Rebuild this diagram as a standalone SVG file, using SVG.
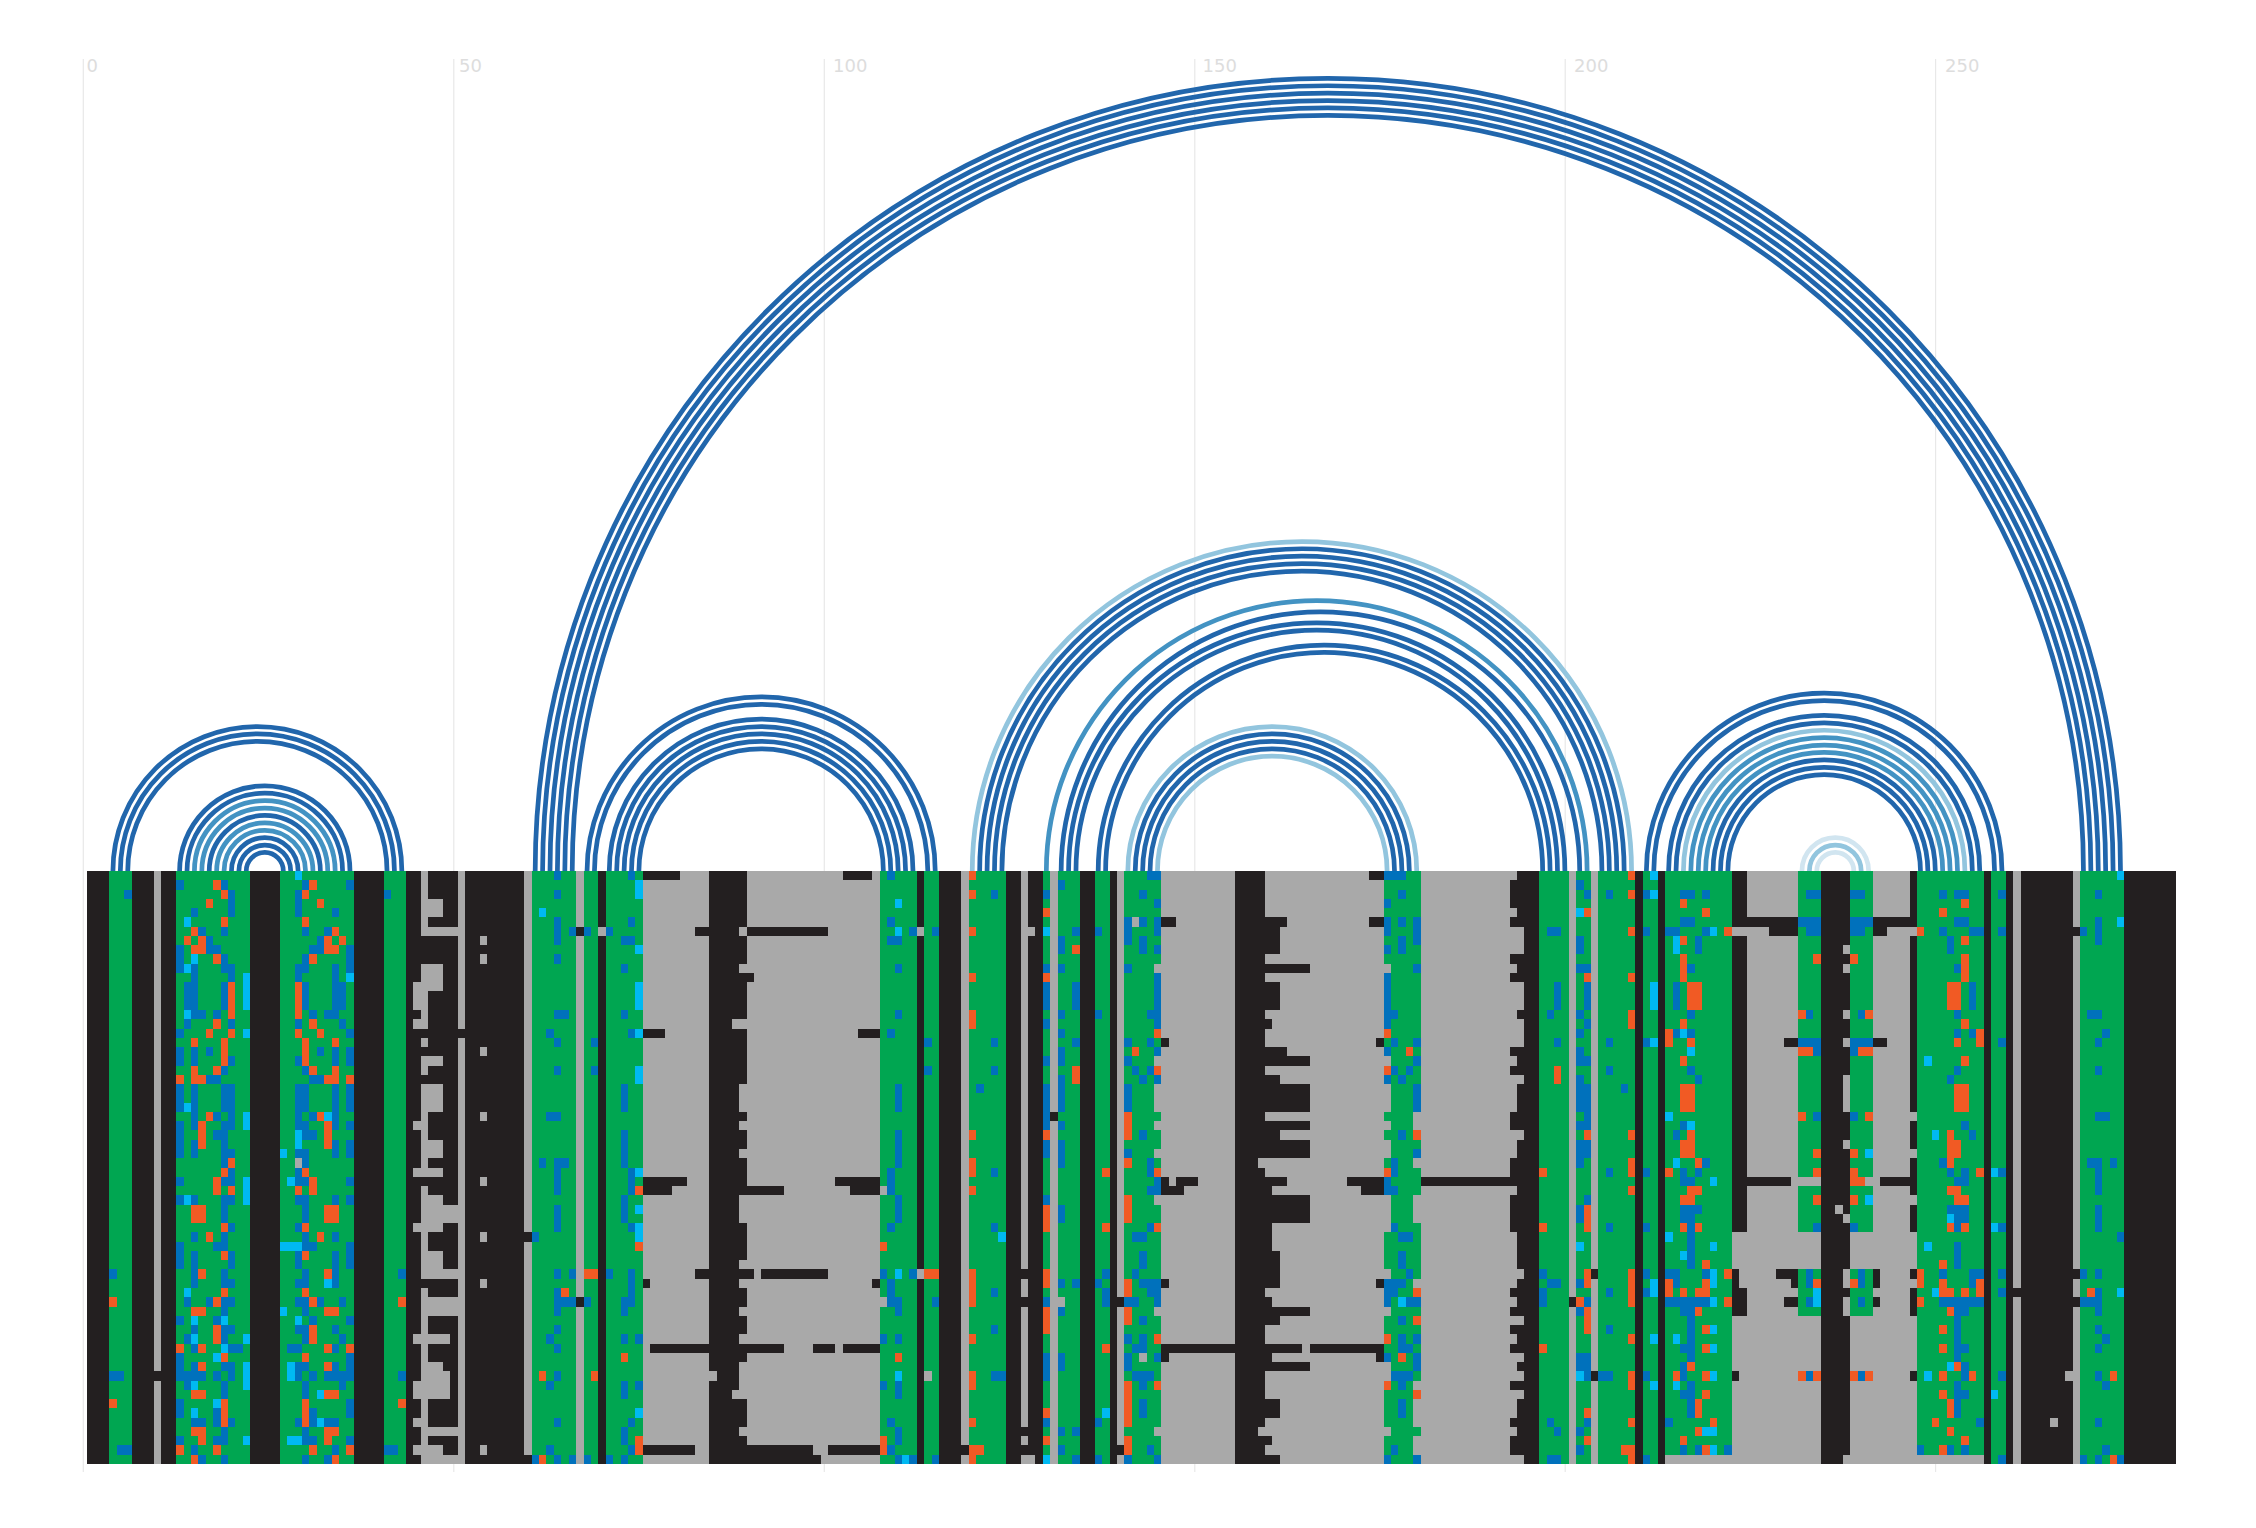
<svg xmlns="http://www.w3.org/2000/svg" width="2256" height="1528" viewBox="0 0 2256 1528">
<style>
text{font-family:"DejaVu Sans",sans-serif;font-size:18px;fill:#ddd}
#grid path{stroke:#e8e8e8;stroke-width:1.2;fill:none}
#matrix{shape-rendering:crispEdges}
#matrix path{fill:none;stroke-width:1}
#matrix path.f{stroke:none}
.a{fill:#a9a9a9}
.n{fill:#00a651!important}.K{fill:#231f20!important}.A{fill:#a9a9a9!important}
.k{stroke:#231f20}.g{stroke:#a9a9a9}.b{stroke:#0071bc}.o{stroke:#f15a24}.c{stroke:#00b9f2}
#connectors path{fill:none;stroke-width:.64}
.d{stroke:#2166ac}.m{stroke:#4393c3}.l{stroke:#92c5de}.p{stroke:#d1e5f0}
</style>
<rect width="2256" height="1528" fill="#fff"/>
<g id="grid">
<path d="M83.3 59V1472M453.8 59V1472M824.3 59V1472M1194.8 59V1472M1565.2 59V1472M1935.6 59V1472"/>
<text x="86.5" y="72">0</text><text x="459" y="72">50</text><text x="833" y="72">100</text><text x="1202.5" y="72">150</text><text x="1574" y="72">200</text><text x="1945" y="72">250</text>
</g>
<g id="connectors" transform="translate(90.704 871) scale(7.408)">
<path class="d" d="M3 0A19.5 19.5 0 0 1 42 0M4 0A18.5 18.5 0 0 1 41 0M5 0A17.5 17.5 0 0 1 40 0"/>
<path class="d" d="M12 0A11.5 11.5 0 0 1 35 0M13 0A10.5 10.5 0 0 1 34 0M16 0A7.5 7.5 0 0 1 31 0M19 0A4.5 4.5 0 0 1 28 0M20 0A3.5 3.5 0 0 1 27 0M21 0A2.5 2.5 0 0 1 26 0"/>
<path class="m" d="M14 0A9.5 9.5 0 0 1 33 0M15 0A8.5 8.5 0 0 1 32 0M17 0A6.5 6.5 0 0 1 30 0M18 0A5.5 5.5 0 0 1 29 0"/>
<path class="d" d="M60 0A107 107 0 0 1 274 0M61 0A106 106 0 0 1 273 0M62 0A105 105 0 0 1 272 0M63 0A104 104 0 0 1 271 0M64 0A103 103 0 0 1 270 0M65 0A102 102 0 0 1 269 0"/>
<path class="d" d="M67 0A23.5 23.5 0 0 1 114 0M68 0A22.5 22.5 0 0 1 113 0M70 0A20.5 20.5 0 0 1 111 0M71 0A19.5 19.5 0 0 1 110 0M72 0A18.5 18.5 0 0 1 109 0M73 0A17.5 17.5 0 0 1 108 0M74 0A16.5 16.5 0 0 1 107 0"/>
<path class="l" d="M119 0A44.5 44.5 0 0 1 208 0"/>
<path class="d" d="M120 0A43.5 43.5 0 0 1 207 0M121 0A42.5 42.5 0 0 1 206 0M122 0A41.5 41.5 0 0 1 205 0M123 0A40.5 40.5 0 0 1 204 0"/>
<path class="m" d="M129 0A36.5 36.5 0 0 1 202 0"/>
<path class="d" d="M131 0A35 35 0 0 1 201 0M132 0A33.5 33.5 0 0 1 199 0M133 0A32.5 32.5 0 0 1 198 0M136 0A30.5 30.5 0 0 1 197 0M137 0A29.5 29.5 0 0 1 196 0"/>
<path class="l" d="M140 0A19.5 19.5 0 0 1 179 0M144 0A15.5 15.5 0 0 1 175 0"/>
<path class="d" d="M141 0A18.5 18.5 0 0 1 178 0M142 0A17.5 17.5 0 0 1 177 0M143 0A16.5 16.5 0 0 1 176 0"/>
<path class="d" d="M210 0A24 24 0 0 1 258 0M211 0A23 23 0 0 1 257 0M213 0A21 21 0 0 1 255 0M214 0A20 20 0 0 1 254 0M219 0A15 15 0 0 1 249 0M220 0A14 14 0 0 1 248 0M221 0A13 13 0 0 1 247 0"/>
<path class="l" d="M215 0A19 19 0 0 1 253 0"/>
<path class="m" d="M216 0A18 18 0 0 1 252 0M217 0A17 17 0 0 1 251 0M218 0A16 16 0 0 1 250 0"/>
<path class="p" d="M231 0A4.5 4.5 0 0 1 240 0M233 0A2.5 2.5 0 0 1 238 0"/>
<path class="l" d="M232 0A3.5 3.5 0 0 1 239 0"/>
</g>
<g id="matrix" transform="translate(87.2 871) scale(7.408 9.266)">
<rect class="a" width="282" height="64"/>
<path class="f n" d="M3 0h3v64h-3zM12 0h10v64h-10zM26 0h10v64h-10zM40 0h3v64h-3zM60 0h6v64h-6zM67 0h2v64h-2zM70 0h5v64h-5zM107 0h5v64h-5zM113 0h2v64h-2zM119 0h5v64h-5zM129 0h1v64h-1zM131 0h3v64h-3zM136 0h2v64h-2zM140 0h5v64h-5zM175 0h5v64h-5zM196 0h4v64h-4zM201 0h2v64h-2zM204 0h5v64h-5zM210 0h2v64h-2zM213 0h9v64h-9zM231 0h3v64h-3zM238 0h3v64h-3zM247 0h9v64h-9zM257 0h2v64h-2zM269 0h6v64h-6z"/>
<path class="f K" d="M0 0h3v64h-3zM6 0h3v64h-3zM10 0h2v64h-2zM22 0h4v64h-4zM36 0h4v64h-4zM43 0h7v64h-7zM51 0h8v64h-8zM69 0h1v64h-1zM84 0h5v64h-5zM112 0h1v64h-1zM115 0h3v64h-3zM124 0h2v64h-2zM127 0h2v64h-2zM134 0h2v64h-2zM138 0h1v64h-1zM155 0h4v64h-4zM194 0h2v64h-2zM209 0h1v64h-1zM212 0h1v64h-1zM222 0h2v64h-2zM234 0h4v64h-4zM246 0h1v64h-1zM256 0h1v64h-1zM259 0h1v64h-1zM261 0h7v64h-7zM275 0h7v64h-7z"/>
<path class="f A" d="M222 39h12v4h-12zM238 39h9v4h-9zM222 48h12v16h-12zM238 48h9v16h-9zM213 63h9v1h-9zM237 63h19v1h-19z"/>
<path class="k" d="M9 54.5h1M50 17.5h1M59 39.5h1M59 63.5h1M66 6.5h1M66 46.5h1M130 26.5h1M126 43.5h1M126 46.5h1M126 60.5h1M126 62.5h1M118 62.5h1M139 46.5h1M139 62.5h1M203 43.5h1M203 54.5h1M200 46.5h1M268 6.5h1M268 43.5h1M268 46.5h1M260 45.5h1M222 54.5h1M246 54.5h1
M75 0.5h5M102 0.5h4M89 11.5h1M82 6.5h2M89 6.5h11M75 17.5h3M104 17.5h3M75 33.5h6M101 33.5h6M75 34.5h4M89 34.5h5M103 34.5h4M82 43.5h2M89 43.5h1M91 43.5h9M75 44.5h1M106 44.5h1M76 51.5h8M89 51.5h5M98 51.5h3M102 51.5h5M75 62.5h7M89 62.5h9M100 62.5h7M89 63.5h10
M145 5.5h2M145 18.5h1M145 33.5h1M145 34.5h3M145 44.5h1M145 51.5h10M145 52.5h1
M159 16.5h1M159 34.5h1M159 38.5h1M159 39.5h1M159 40.5h1M159 46.5h1M159 52.5h1M159 61.5h1
M159 6.5h2M159 7.5h2M159 8.5h2M159 12.5h2M159 13.5h2M159 14.5h2M159 22.5h2M159 28.5h2M159 41.5h2M159 42.5h2M159 43.5h2M159 44.5h2M159 48.5h2M159 57.5h2M159 58.5h2M159 63.5h2
M159 5.5h3M159 19.5h3M159 33.5h3
M159 10.5h6M159 20.5h6M159 23.5h6M159 24.5h6M159 25.5h6M159 27.5h6M159 29.5h6M159 30.5h6M159 35.5h6M159 36.5h6M159 37.5h6M159 47.5h6M159 53.5h6
M159 51.5h5M165 51.5h10
M173 0.5h2M173 5.5h2M174 18.5h1M147 33.5h3M170 33.5h5M180 33.5h14M172 34.5h3M174 44.5h1M174 52.5h1
M193 0.5h1M193 4.5h1M193 10.5h1M193 15.5h1M193 20.5h1M193 23.5h1M193 24.5h1M193 25.5h1M193 29.5h1M193 30.5h1M193 34.5h1M193 39.5h1M193 40.5h1M193 41.5h1M193 42.5h1M193 44.5h1M193 46.5h1M193 50.5h1M193 53.5h1M193 57.5h1M193 58.5h1M193 60.5h1
M192 1.5h2M192 2.5h2M192 3.5h2M192 5.5h2M192 9.5h2M192 11.5h2M192 19.5h2M192 21.5h2M192 26.5h2M192 27.5h2M192 31.5h2M192 32.5h2M192 35.5h2M192 36.5h2M192 37.5h2M192 38.5h2M192 45.5h2M192 47.5h2M192 49.5h2M192 51.5h2M192 55.5h2M192 59.5h2M192 61.5h2M192 62.5h2
M224 5.5h7M241 5.5h5M227 6.5h4M241 6.5h2M229 18.5h2M241 18.5h2M224 33.5h6M242 33.5h4M228 43.5h3M241 43.5h1M230 44.5h1M241 44.5h1M229 46.5h2M241 46.5h1"/>
<path class="g" d="M45.5 0v3M45 3.5h3M45 4.5h3M45 5.5h1M45 6.5h5M45 10.5h3M45 11.5h3M44 12.5h4M44 13.5h2M44 14.5h2M45 15.5h1M44 16.5h2M45 18.5h1M45 20.5h3M45 21.5h1M45 23.5h3M45 24.5h3M45 25.5h3M45 26.5h1M44 27.5h2M45 28.5h1M45 29.5h3M45 30.5h3M45 31.5h1M44 32.5h4M45 34.5h1M45 35.5h3M45 36.5h5M45 37.5h5M44 38.5h4M45 39.5h1M45 40.5h1M45 41.5h3M45 42.5h3M45 43.5h5M45 45.5h1M45 46.5h5M45 47.5h5M45 48.5h1M45 49.5h1M44 50.5h5M45 51.5h1M45 52.5h1M45 53.5h3M45 54.5h4M44 55.5h5M44 56.5h5M45 57.5h1M45 58.5h1M44 59.5h2M45 60.5h5M45 61.5h1M44 62.5h4M45 63.5h5
M53 7.5h1M53 9.5h1M53 19.5h1M53 26.5h1M53 33.5h1M53 39.5h1M53 44.5h1M53 62.5h1M69 6.5h1M28 31.5h1
M88 6.5h1M88 10.5h1M87 16.5h2M88 23.5h1M88 24.5h1M88 25.5h1M88 27.5h1M88 30.5h1M88 35.5h1M88 36.5h1M88 37.5h1M88 42.5h1M88 44.5h1M88 47.5h1M88 50.5h1M88 53.5h1M84 54.5h1M88 54.5h1M88 55.5h1M87 56.5h2M88 60.5h1
M112 6.5h1M112 43.5h1M113 54.5h1M127 6.5h1M127 63.5h1M107 34.5h1M107 46.5h1M130 46.5h2M141 5.5h1M142 52.5h1M144 10.5h1M144 20.5h1M144 23.5h1M144 24.5h1M144 25.5h1M144 27.5h1M144 30.5h1M144 35.5h1M144 47.5h1M144 60.5h1M158 31.5h1M158 60.5h1
M175 10.5h1M175 20.5h1M175 23.5h1M175 24.5h1M175 25.5h1M175 27.5h1M175 29.5h1M175 30.5h1M175 35.5h1M175 36.5h1M175 37.5h1M175 38.5h1M175 43.5h1M175 47.5h1M175 53.5h1M175 54.5h1M175 60.5h1
M179 26.5h1M179 27.5h1M179 31.5h1M179 35.5h1M179 36.5h1M179 37.5h1M179 44.5h1M179 55.5h1M179 57.5h1M179 58.5h1M179 59.5h1M179 61.5h1M179 62.5h1
M222 6.5h5M223 43.5h1M223 44.5h1M230 33.5h4M240 33.5h2M243 6.5h4M246 26.5h1M246 30.5h1M246 35.5h1M246 44.5h1M236 36.5h1M237 8.5h1M237 10.5h1M237 15.5h1M237 18.5h1M237 22.5h1M237 23.5h1M237 24.5h1M237 25.5h1M237 29.5h1M237 37.5h1M237 43.5h1M237 44.5h1M237 46.5h1M237 47.5h1M265 59.5h1M267 54.5h1"/>
<path class="b" d="M63 0.5h1M73 0.5h1M12 1.5h1M18 1.5h1M29 1.5h1M35 1.5h1M5 2.5h1M40 2.5h1M19 2.5h1M28 2.5h1M63 2.5h1M19 3.5h1M28 3.5h1M14 4.5h1M19 4.5h1M28 4.5h1M33 4.5h1M63 5.5h1M73 5.5h1M15 6.5h1M18 6.5h1M29 6.5h1M32 6.5h1M63 6.5h1M65 6.5h1M67 6.5h1M70 6.5h1M16 7.5h1M31 7.5h1M63 7.5h1M72 7.5h2M12 8.5h1M16 8.5h2M30 8.5h2M35 8.5h1M12 9.5h1M18 9.5h1M29 9.5h1M35 9.5h1M63 9.5h1M12 10.5h1M14 10.5h1M18 10.5h2M28 10.5h2M33 10.5h1M35 10.5h1M72 10.5h1M14 11.5h1M19 11.5h1M28 11.5h1M33 11.5h1
M13 12.5h2M18 12.5h1M29 12.5h1M33 12.5h2M13 13.5h2M18 13.5h1M29 13.5h1M33 13.5h2M13 14.5h2M18 14.5h1M29 14.5h1M33 14.5h2M14 15.5h2M17 15.5h1M30 15.5h1M32 15.5h2M63 15.5h2M72 15.5h1M13 16.5h1M19 16.5h1M28 16.5h1M34 16.5h1M12 17.5h1M35 17.5h1M62 17.5h1M73 17.5h1M63 18.5h1M68 18.5h1M12 19.5h1M14 19.5h1M16 19.5h1M31 19.5h1M33 19.5h1M35 19.5h1M12 20.5h1M14 20.5h1M19 20.5h1M28 20.5h1M33 20.5h1M35 20.5h1M18 21.5h1M29 21.5h1M63 21.5h1M68 21.5h1M16 22.5h2M30 22.5h2
M12 23.5h1M14 23.5h1M18 23.5h2M28 23.5h2M33 23.5h1M35 23.5h1M72 23.5h1M12 24.5h1M14 24.5h1M18 24.5h2M28 24.5h2M33 24.5h1M35 24.5h1M72 24.5h1M12 25.5h1M14 25.5h1M18 25.5h2M28 25.5h2M33 25.5h1M35 25.5h1M72 25.5h1M14 26.5h1M17 26.5h1M19 26.5h1M28 26.5h1M30 26.5h1M33 26.5h1M62 26.5h2M12 27.5h1M14 27.5h1M18 27.5h2M28 27.5h2M33 27.5h1M35 27.5h1M12 28.5h1M17 28.5h2M29 28.5h2M72 28.5h1M12 29.5h1M14 29.5h1M18 29.5h1M33 29.5h1M35 29.5h1M72 29.5h1M12 30.5h1M14 30.5h1M18 30.5h2M28 30.5h2M33 30.5h1M35 30.5h1M72 30.5h1M18 31.5h1M29 31.5h1M61 31.5h1M63 31.5h2M72 31.5h1M19 32.5h1M28 32.5h1M63 32.5h1M73 32.5h1M12 33.5h1M18 33.5h2M28 33.5h2M35 33.5h1M63 33.5h1M73 33.5h1M63 34.5h1M73 34.5h1M12 35.5h1M14 35.5h1M18 35.5h2M28 35.5h2M33 35.5h1M35 35.5h1M72 35.5h1M18 36.5h1M29 36.5h1M63 36.5h1M72 36.5h1M18 37.5h1M29 37.5h1M63 37.5h1M72 37.5h1M19 38.5h1M28 38.5h1M63 38.5h1M73 38.5h1M14 39.5h1M18 39.5h1M29 39.5h1M33 39.5h1M60 39.5h1M12 40.5h1M17 40.5h2M29 40.5h2M35 40.5h1
M12 41.5h1M14 41.5h1M19 41.5h1M28 41.5h1M33 41.5h1M35 41.5h1M12 42.5h1M14 42.5h1M19 42.5h1M28 42.5h1M33 42.5h1M35 42.5h1M3 43.5h1M14 43.5h1M18 43.5h1M29 43.5h1M33 43.5h1M42 43.5h1M63 43.5h1M65 43.5h1M70 43.5h1M73 43.5h1M14 44.5h1M18 44.5h2M28 44.5h2M33 44.5h1M73 44.5h1M13 45.5h1M63 45.5h1M73 45.5h1M13 46.5h1M16 46.5h1M18 46.5h2M28 46.5h2M31 46.5h1M34 46.5h1M63 46.5h3M67 46.5h1M72 46.5h2M18 47.5h1M29 47.5h1M63 47.5h1M72 47.5h1M12 48.5h1M17 48.5h1M30 48.5h1M35 48.5h1M14 49.5h1M18 49.5h2M28 49.5h2M33 49.5h1M63 49.5h1M13 50.5h1M18 50.5h1M29 50.5h1M34 50.5h1M62 50.5h1M72 50.5h1M74 50.5h1M14 51.5h1M19 51.5h2M27 51.5h2M33 51.5h1M63 51.5h1M12 52.5h1M35 52.5h1M12 53.5h1M14 53.5h1M18 53.5h2M28 53.5h2M33 53.5h1M35 53.5h1M3 54.5h2M12 54.5h4M17 54.5h1M19 54.5h1M28 54.5h1M30 54.5h1M32 54.5h4M42 54.5h1M63 54.5h1M13 55.5h1M18 55.5h1M29 55.5h1M34 55.5h1M62 55.5h1M72 55.5h1M74 55.5h1M18 56.5h1M29 56.5h1M72 56.5h1M12 57.5h1M35 57.5h1M12 58.5h1M17 58.5h1M30 58.5h1M35 58.5h1M14 59.5h2M17 59.5h1M19 59.5h1M28 59.5h1M30 59.5h1M32 59.5h2M63 59.5h1M73 59.5h1M18 60.5h1M29 60.5h1M72 60.5h1M12 61.5h1M17 61.5h2M29 61.5h2M35 61.5h1M72 61.5h1M4 62.5h2M14 62.5h1M33 62.5h1M40 62.5h2M62 62.5h1M73 62.5h1M15 63.5h1M18 63.5h1M29 63.5h1M32 63.5h1M60 63.5h1M63 63.5h1M65 63.5h1M67 63.5h1M70 63.5h1M72 63.5h1
M108 0.5h1M143 0.5h2M131 1.5h1M122 2.5h1M129 2.5h1M142 2.5h1M144 3.5h1M108 5.5h1M140 5.5h1M142 5.5h1M144 5.5h1M111 6.5h1M114 6.5h1M133 6.5h1M136 6.5h1M140 6.5h1M144 6.5h1M108 7.5h2M131 7.5h1M140 7.5h1M142 7.5h1M131 8.5h1M142 8.5h1M144 8.5h1M109 10.5h1M129 10.5h1M131 10.5h1M140 10.5h1M144 11.5h1M129 12.5h1M133 12.5h1M144 12.5h1M129 13.5h1M133 13.5h1M144 13.5h1M129 14.5h1M133 14.5h1M144 14.5h1M109 15.5h1M131 15.5h1M136 15.5h1M143 15.5h2M129 16.5h1M144 16.5h1M108 17.5h1M131 17.5h1M113 18.5h1M122 18.5h1M133 18.5h1M140 18.5h1M143 18.5h1M131 19.5h1M144 19.5h1M129 20.5h1M131 20.5h1M140 20.5h1M113 21.5h1M122 21.5h1M141 21.5h1M143 21.5h1M131 22.5h1M142 22.5h1M144 22.5h1
M109 23.5h1M120 23.5h1M129 23.5h1M131 23.5h1M140 23.5h1M109 24.5h1M129 24.5h1M131 24.5h1M140 24.5h1M109 25.5h1M129 25.5h1M131 25.5h1M140 25.5h1M129 26.5h1M129 27.5h1M131 27.5h1M109 28.5h1M142 28.5h1M109 29.5h1M129 29.5h1M131 29.5h1M109 30.5h1M129 30.5h1M131 30.5h1M140 30.5h1M109 31.5h1M131 31.5h1M143 31.5h1M108 32.5h1M122 32.5h1M143 32.5h1M108 33.5h1M144 33.5h1M108 34.5h1M143 34.5h2M109 35.5h1M129 35.5h1M109 36.5h1M131 36.5h1M109 37.5h1M131 37.5h1M108 38.5h1M122 38.5h1M143 38.5h1M141 39.5h2M142 41.5h1M142 42.5h1M107 43.5h1M111 43.5h1M137 43.5h1M141 43.5h1M108 44.5h1M131 44.5h1M133 44.5h1M136 44.5h1M142 44.5h3M108 45.5h1M122 45.5h1M137 45.5h1M143 45.5h2M108 46.5h2M114 46.5h1M129 46.5h1M137 46.5h1M140 46.5h2M144 46.5h1M109 47.5h1M131 47.5h1M142 48.5h1M122 49.5h1M107 50.5h1M109 50.5h1M140 50.5h1M142 50.5h1M141 51.5h2M129 52.5h1M131 52.5h1M140 52.5h1M144 52.5h1M129 53.5h1M131 53.5h1M140 53.5h1M122 54.5h2M129 54.5h1M141 54.5h3M107 55.5h1M109 55.5h1M142 55.5h1M109 56.5h1M142 57.5h1M142 58.5h1M108 59.5h1M129 59.5h1M136 59.5h1M109 60.5h1M131 60.5h1M133 60.5h1M109 61.5h1M108 62.5h1M131 62.5h1M143 62.5h1M109 63.5h1M111 63.5h1M114 63.5h1M133 63.5h1M136 63.5h1M140 63.5h1M144 63.5h1
M175 0.5h3M201 1.5h1M177 2.5h1M202 2.5h1M205 2.5h1M210 2.5h1M215 2.5h2M218 2.5h1M232 2.5h2M238 2.5h2M250 2.5h1M252 2.5h2M258 2.5h1M271 2.5h1M175 3.5h1M175 5.5h1M177 5.5h1M179 5.5h1M215 5.5h2M231 5.5h3M238 5.5h3M252 5.5h2M271 5.5h1M175 6.5h1M179 6.5h1M197 6.5h2M210 6.5h1M213 6.5h2M218 6.5h1M232 6.5h2M238 6.5h2M250 6.5h1M254 6.5h2M258 6.5h1M269 6.5h1M271 6.5h1M177 7.5h1M179 7.5h1M201 7.5h1M217 7.5h1M251 7.5h1M271 7.5h1M175 8.5h1M177 8.5h1M201 8.5h1M217 8.5h1M251 8.5h1M179 10.5h1M201 10.5h2M216 10.5h1M252 10.5h1M175 11.5h1M175 12.5h1M198 12.5h1M202 12.5h1M214 12.5h1M254 12.5h1M175 13.5h1M198 13.5h1M202 13.5h1M214 13.5h1M254 13.5h1M175 14.5h1M198 14.5h1M202 14.5h1M214 14.5h1M254 14.5h1M175 15.5h2M197 15.5h1M201 15.5h1M216 15.5h1M232 15.5h1M239 15.5h1M252 15.5h1M270 15.5h2M175 16.5h1M202 16.5h1M201 17.5h1M214 17.5h1M216 17.5h1M252 17.5h1M254 17.5h1M272 17.5h1M176 18.5h1M179 18.5h1M198 18.5h1M205 18.5h1M210 18.5h1M231 18.5h3M238 18.5h3M258 18.5h1M271 18.5h1M175 19.5h1M201 19.5h1M233 19.5h1M238 19.5h1M179 20.5h1M201 20.5h2M176 21.5h1M178 21.5h1M205 21.5h1M216 21.5h1M252 21.5h1M271 21.5h1M175 22.5h1M177 22.5h1M201 22.5h1M217 22.5h1M251 22.5h1
M179 23.5h1M201 23.5h2M207 23.5h1M179 24.5h1M201 24.5h2M179 25.5h1M201 25.5h2M202 26.5h1M233 26.5h1M238 26.5h1M271 26.5h2M201 27.5h2M215 27.5h1M253 27.5h1M177 28.5h1M214 28.5h1M254 28.5h1M201 29.5h2M179 30.5h1M201 30.5h2M176 31.5h1M201 31.5h1M218 31.5h1M250 31.5h1M270 31.5h2M273 31.5h1M176 32.5h1M205 32.5h1M210 32.5h1M215 32.5h1M217 32.5h1M251 32.5h1M253 32.5h1M258 32.5h1M271 32.5h1M175 33.5h1M215 33.5h2M252 33.5h2M271 33.5h1M175 34.5h2M271 34.5h1M202 35.5h1M201 36.5h1M215 36.5h3M251 36.5h3M271 36.5h1M201 37.5h1M215 37.5h2M252 37.5h2M271 37.5h1M176 38.5h1M205 38.5h1M210 38.5h1M216 38.5h1M233 38.5h1M238 38.5h1M252 38.5h1M258 38.5h1M271 38.5h1M177 39.5h2M216 39.5h1M274 39.5h1M216 40.5h1M252 40.5h1M177 41.5h1M216 41.5h1M252 41.5h1M177 42.5h1M216 42.5h1M252 42.5h1
M178 43.5h1M196 43.5h1M210 43.5h1M213 43.5h2M218 43.5h1M232 43.5h1M239 43.5h1M250 43.5h1M254 43.5h2M258 43.5h1M269 43.5h1M271 43.5h1M175 44.5h3M197 44.5h2M201 44.5h1M214 44.5h1M232 44.5h1M239 44.5h1M254 44.5h1M175 45.5h2M196 45.5h1M205 45.5h1M210 45.5h1M258 45.5h1M271 45.5h1M175 46.5h1M178 46.5h2M196 46.5h1M202 46.5h1M213 46.5h7M232 46.5h1M239 46.5h1M250 46.5h6M269 46.5h3M201 47.5h1M215 47.5h2M252 47.5h2M271 47.5h1M177 48.5h1M216 48.5h1M252 48.5h1M205 49.5h1M216 49.5h1M252 49.5h1M271 49.5h1M177 50.5h1M179 50.5h1M216 50.5h1M252 50.5h1M272 50.5h1M177 51.5h2M215 51.5h2M252 51.5h2M271 51.5h1M175 52.5h1M179 52.5h1M201 52.5h2M216 52.5h1M252 52.5h1M179 53.5h1M201 53.5h2M215 53.5h1M253 53.5h1M176 54.5h3M202 54.5h1M204 54.5h2M210 54.5h1M215 54.5h1M232 54.5h1M239 54.5h1M253 54.5h1M258 54.5h1M271 54.5h1M177 55.5h1M216 55.5h1M252 55.5h1M272 55.5h1M215 56.5h2M252 56.5h2M177 57.5h1M216 57.5h1M252 57.5h1M177 58.5h1M216 58.5h1M252 58.5h1M197 59.5h1M202 59.5h1M213 59.5h1M255 59.5h1M271 59.5h1M198 60.5h1M201 60.5h1M176 62.5h1M201 62.5h1M215 62.5h1M217 62.5h1M221 62.5h1M247 62.5h1M251 62.5h1M253 62.5h1M272 62.5h1M175 63.5h1M179 63.5h1M197 63.5h2M210 63.5h1M258 63.5h1M269 63.5h1M271 63.5h1M274 63.5h1"/>
<path class="o" d="M17 1.5h1M30 1.5h1M18 2.5h1M29 2.5h1M16 3.5h1M31 3.5h1M18 5.5h1M29 5.5h1M14 6.5h1M33 6.5h1M13 7.5h1M15 7.5h1M32 7.5h1M34 7.5h1M14 8.5h2M32 8.5h2M17 9.5h1M30 9.5h1M19 12.5h1M28 12.5h1M19 13.5h1M28 13.5h1M19 14.5h1M28 14.5h1M19 15.5h1M28 15.5h1M17 16.5h1M30 16.5h1M16 17.5h1M19 17.5h1M28 17.5h1M31 17.5h1M14 18.5h1M18 18.5h1M29 18.5h1M33 18.5h1M18 19.5h1M29 19.5h1M18 20.5h1M29 20.5h1M14 21.5h1M17 21.5h1M30 21.5h1M33 21.5h1M12 22.5h1M14 22.5h2M32 22.5h2M35 22.5h1M16 26.5h1M31 26.5h1M15 27.5h1M32 27.5h1M15 28.5h1M32 28.5h1M15 29.5h1M32 29.5h1M19 31.5h1M18 32.5h1M29 32.5h1M17 33.5h1M30 33.5h1M17 34.5h1M19 34.5h1M28 34.5h1M30 34.5h1M74 34.5h1M14 36.5h2M32 36.5h2M14 37.5h2M32 37.5h2M18 38.5h1M29 38.5h1M16 39.5h1M31 39.5h1M74 40.5h1M18 41.5h1M29 41.5h1M15 43.5h1M32 43.5h1M67 43.5h2M18 45.5h1M29 45.5h1M64 45.5h1M3 46.5h1M17 46.5h1M30 46.5h1M42 46.5h1M14 47.5h2M32 47.5h2M17 49.5h1M30 49.5h1M17 50.5h1M30 50.5h1M12 51.5h1M15 51.5h1M32 51.5h1M35 51.5h1M18 52.5h1M29 52.5h1M72 52.5h1M15 53.5h1M32 53.5h1M61 54.5h1M68 54.5h1M14 56.5h2M32 56.5h2M3 57.5h1M18 57.5h1M29 57.5h1M42 57.5h1M18 58.5h1M29 58.5h1M18 59.5h1M29 59.5h1M14 60.5h2M32 60.5h2M15 61.5h1M32 61.5h1M74 61.5h1M12 62.5h1M17 62.5h1M30 62.5h1M35 62.5h1M74 62.5h1M14 63.5h1M33 63.5h1M61 63.5h1
M119 0.5h1M119 2.5h1M129 4.5h1M119 6.5h1M133 8.5h1M119 11.5h1M129 11.5h1M119 15.5h1M119 16.5h1M144 17.5h1M141 19.5h1M133 21.5h1M144 21.5h1M133 22.5h1M140 26.5h1M140 27.5h1M119 28.5h1M129 28.5h1M140 28.5h1M119 31.5h1M140 31.5h1M119 32.5h1M137 32.5h1M144 32.5h1M119 34.5h1M140 35.5h1M129 36.5h1M140 36.5h1M129 37.5h1M140 37.5h1M129 38.5h1M137 38.5h1M144 38.5h1M107 40.5h1M113 43.5h2M119 43.5h1M129 43.5h1M119 44.5h1M129 44.5h1M140 44.5h1M119 45.5h1M140 45.5h1M119 46.5h1M129 47.5h1M140 47.5h1M129 48.5h1M140 48.5h1M129 49.5h1M119 50.5h1M144 50.5h1M137 51.5h1M109 52.5h1M119 54.5h1M119 55.5h1M140 55.5h1M144 55.5h1M140 56.5h1M140 57.5h1M140 58.5h1M129 58.5h1M119 59.5h1M140 59.5h1M107 61.5h1M129 61.5h1M140 61.5h1M107 62.5h1M119 62.5h2M140 62.5h1M119 63.5h1
M208 0.5h1M208 2.5h1M215 3.5h1M253 3.5h1M202 4.5h1M218 4.5h1M250 4.5h1M208 6.5h1M221 6.5h1M247 6.5h1M215 7.5h1M253 7.5h1M215 9.5h1M233 9.5h1M238 9.5h1M253 9.5h1M215 10.5h1M253 10.5h1M202 11.5h1M208 11.5h1M215 11.5h1M253 11.5h1M216 12.5h2M251 12.5h2M216 13.5h2M251 13.5h2M216 14.5h2M251 14.5h2M208 15.5h1M231 15.5h1M240 15.5h1M208 16.5h1M215 16.5h1M253 16.5h1M175 17.5h1M213 17.5h1M255 17.5h1M213 18.5h1M216 18.5h1M252 18.5h1M255 18.5h1M178 19.5h1M231 19.5h2M239 19.5h2M215 20.5h1M253 20.5h1M175 21.5h1M198 21.5h1M198 22.5h1M215 23.5h2M252 23.5h2M215 24.5h2M252 24.5h2M215 25.5h2M252 25.5h2M231 26.5h1M240 26.5h1M179 28.5h1M202 28.5h1M208 28.5h1M216 28.5h1M251 28.5h1M215 29.5h2M251 29.5h2M215 30.5h2M233 30.5h1M238 30.5h1M251 30.5h2M208 31.5h1M217 31.5h1M251 31.5h1M175 32.5h1M196 32.5h1M208 32.5h1M213 32.5h1M233 32.5h1M238 32.5h1M255 32.5h1M238 33.5h2M208 34.5h1M216 34.5h2M251 34.5h2M215 35.5h2M233 35.5h1M238 35.5h1M252 35.5h2M202 36.5h1M202 37.5h1M196 38.5h1M202 38.5h1M215 38.5h1M217 38.5h1M251 38.5h1M253 38.5h1M218 42.5h1M250 42.5h1M202 43.5h1M208 43.5h1M221 43.5h1M247 43.5h1M202 44.5h1M208 44.5h1M213 44.5h1M218 44.5h1M233 44.5h1M238 44.5h1M247 44.5h1M250 44.5h1M255 44.5h1M179 45.5h1M208 45.5h1M213 45.5h1M215 45.5h1M217 45.5h2M250 45.5h2M253 45.5h1M255 45.5h1M270 45.5h1M201 46.5h1M208 46.5h1M221 46.5h1M247 46.5h1M202 47.5h1M217 47.5h1M251 47.5h1M179 48.5h1M202 48.5h1M202 49.5h1M218 49.5h1M250 49.5h1M175 50.5h1M208 50.5h1M196 51.5h1M218 51.5h1M250 51.5h1M177 52.5h1M216 53.5h1M252 53.5h1M208 54.5h1M214 54.5h1M218 54.5h1M231 54.5h1M233 54.5h1M238 54.5h1M240 54.5h1M250 54.5h1M254 54.5h1M273 54.5h1M175 55.5h1M208 55.5h1M179 56.5h1M218 56.5h1M250 56.5h1M217 57.5h1M251 57.5h1M202 58.5h1M217 58.5h1M251 58.5h1M208 59.5h1M219 59.5h1M249 59.5h1M217 60.5h1M251 60.5h1M202 61.5h1M215 61.5h1M253 61.5h1M207 62.5h2M218 62.5h1M250 62.5h1M208 63.5h1M273 63.5h1"/>
<path class="c" d="M28 0.5h1M74 1.5h1M74 2.5h1M61 4.5h1M13 5.5h1M74 8.5h1M14 9.5h1M13 10.5h1M21 11.5h1M35 11.5h1M21 12.5h1M74 12.5h1M21 13.5h1M74 13.5h1M21 14.5h1M74 14.5h1M13 15.5h1M21 17.5h1M74 17.5h1M74 21.5h1M74 22.5h1M13 25.5h1M21 26.5h1M32 26.5h1M21 27.5h1M28 28.5h1M28 29.5h1M26 30.5h1M74 32.5h1M21 33.5h1M27 33.5h1M21 34.5h1M13 35.5h1M21 35.5h1M74 36.5h1M74 38.5h1M74 39.5h1M26 40.5h3M32 44.5h1M13 45.5h1M26 47.5h1M14 48.5h1M18 48.5h1M28 48.5h1M14 50.5h1M21 50.5h1M18 51.5h1M17 52.5h1M21 53.5h1M27 53.5h1M21 54.5h1M27 54.5h1M14 55.5h1M21 55.5h1M31 56.5h1M17 57.5h1M14 58.5h1M74 58.5h1M31 59.5h1M21 61.5h1M27 61.5h2
M109 3.5h1M109 6.5h1M129 6.5h1M123 39.5h1M109 43.5h1M109 54.5h1M137 58.5h1M110 63.5h1M129 63.5h1
M211 0.5h1M274 0.5h1M211 2.5h1M201 4.5h1M274 5.5h1M219 6.5h1M214 7.5h1M214 8.5h1M211 12.5h1M211 13.5h1M211 14.5h1M215 17.5h1M211 18.5h1M216 19.5h1M248 20.5h1M213 26.5h1M216 27.5h1M249 28.5h1M240 30.5h1M214 31.5h1M257 32.5h1M219 33.5h1M240 35.5h1M251 37.5h1M257 38.5h1M213 39.5h1M201 40.5h1M219 40.5h1M248 40.5h1M215 41.5h1M219 43.5h1M211 44.5h1M219 44.5h1M211 45.5h1M233 45.5h1M249 45.5h1M274 45.5h1M177 46.5h1M219 46.5h1M233 46.5h1M219 49.5h1M211 50.5h1M214 50.5h1M219 51.5h1M251 53.5h1M201 54.5h1M219 54.5h1M248 54.5h1M211 55.5h1M214 55.5h1M257 56.5h1M218 60.5h2M219 62.5h1"/>
</g>
</svg>
